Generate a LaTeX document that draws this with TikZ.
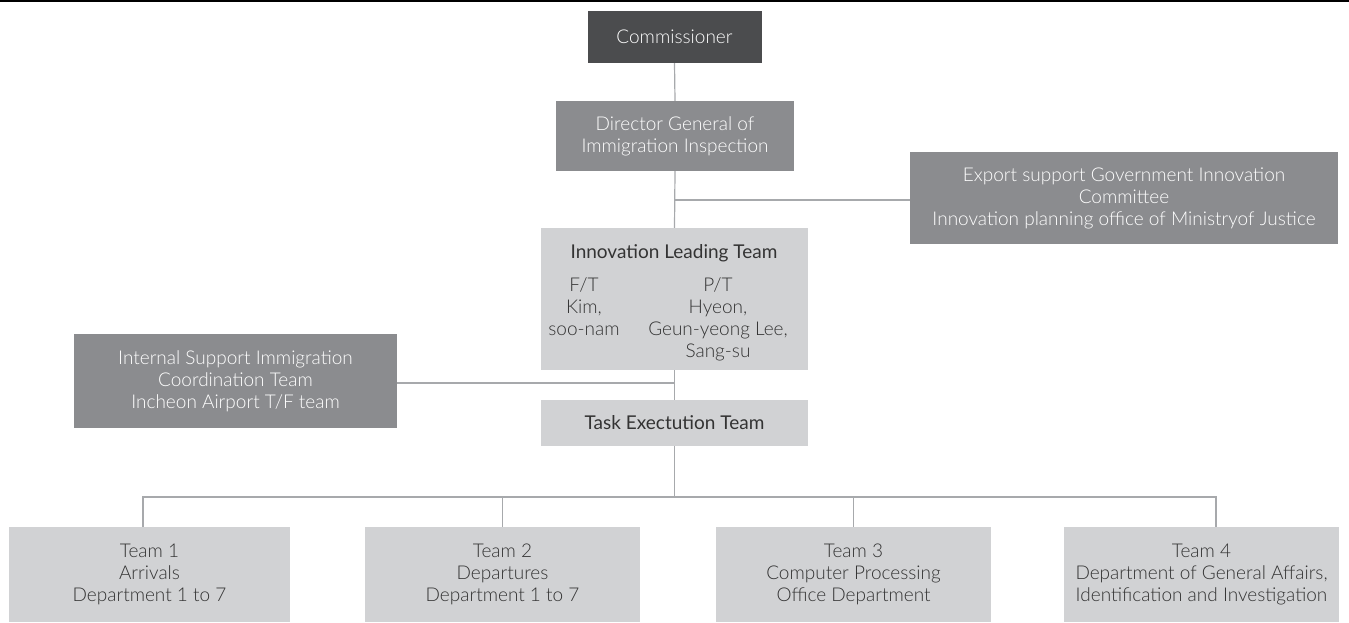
\documentclass[tikz,border=0pt]{standalone}
\usepackage{fontspec}
\setmainfont{Lato}
\newfontfamily\thinfont{Lato Light}
\usetikzlibrary{positioning}
\definecolor{chief}{HTML}{4B4C4E}
\definecolor{midgray}{HTML}{8B8C8F}
\definecolor{palegray}{HTML}{D1D2D4}
\definecolor{linkgray}{HTML}{A7A9AC}
\definecolor{inkgray}{HTML}{333333}
\tikzset{
  unit/.style={inner sep=0pt, align=center, font=\thinfont\fontsize{19}{22}\selectfont},
  topbox/.style={unit, fill=chief, text=white},
  darkbox/.style={unit, fill=midgray, text=white},
  lightbox/.style={unit, fill=palegray, text=inkgray},
  label/.style={inner sep=0pt, align=center, text=inkgray},
  link/.style={draw=linkgray, line width=1.2pt}
}
\begin{document}
\begin{tikzpicture}[x=1pt,y=-1pt]
\useasboundingbox (0,0) rectangle (1349,622);
% rule across the top
\draw [line width=2pt] (0,1) -- (1349,1);
% boxes
\node (comm) [topbox, minimum width=174, minimum height=52] at (674.5,37) {Commissioner};
\node (dg) [darkbox, minimum width=238, minimum height=70] at (675,136) {Director General of\\Immigration Inspection};
\node (exp) [darkbox, minimum width=428, minimum height=92] at (1124,198) {Export support Government Innovation\\Committee\\Innovation planning office of Ministryof Justice};
\node (ilt) [lightbox, minimum width=267, minimum height=142] at (674.5,299) {};
\node (ilthead) [label, font=\fontsize{19}{22}\selectfont] at (674,253) {Innovation Leading Team};
\node (iltft) [label, anchor=north, font=\thinfont\fontsize{19}{22}\selectfont] at (584,277) {F/T\\Kim,\\soo-nam};
\node (iltpt) [label, anchor=north, font=\thinfont\fontsize{19}{22}\selectfont] at (718,277) {P/T\\Hyeon,\\Geun-yeong Lee,\\Sang-su};
\node (isp) [darkbox, minimum width=323, minimum height=94] at (235.5,381) {Internal Support Immigration\\Coordination Team\\Incheon Airport T/F team};
\node (task) [lightbox, minimum width=267, minimum height=46, font=\fontsize{19}{22}\selectfont] at (674.5,423) {Task Exectution Team};
\node (t1) [lightbox, minimum width=281, minimum height=95] at (149.5,574.5) {Team 1\\Arrivals\\Department 1 to 7};
\node (t2) [lightbox, minimum width=275, minimum height=95] at (502.5,574.5) {Team 2\\Departures\\Department 1 to 7};
\node (t3) [lightbox, minimum width=275, minimum height=95] at (853.5,574.5) {Team 3\\Computer Processing\\Office Department};
\node (t4) [lightbox, minimum width=275, minimum height=95] at (1201.5,574.5) {Team 4\\Department of General Affairs,\\Identification and Investigation};
% joints
\coordinate (expjoint) at (674.5,200);
\coordinate (ispjoint) at (674.5,383);
\coordinate (bus) at (674.5,497);
% connectors
\draw [link] (comm.south) -- (dg.north);
\draw [link] (dg.south) -- (ilt.north);
\draw [link] (expjoint) -- (expjoint -| exp.west);
\draw [link] (ilt.south) -- (task.north);
\draw [link] (ispjoint) -- (ispjoint -| isp.east);
\draw [link] (task.south) -- (bus);
\draw [link] ([xshift=-6.5]t1.north) |- (bus) -| ([xshift=14.5]t4.north);
\draw [link] (t2.north) -- (t2.north |- bus);
\draw [link] (t3.north) -- (t3.north |- bus);
\end{tikzpicture}
\end{document}
